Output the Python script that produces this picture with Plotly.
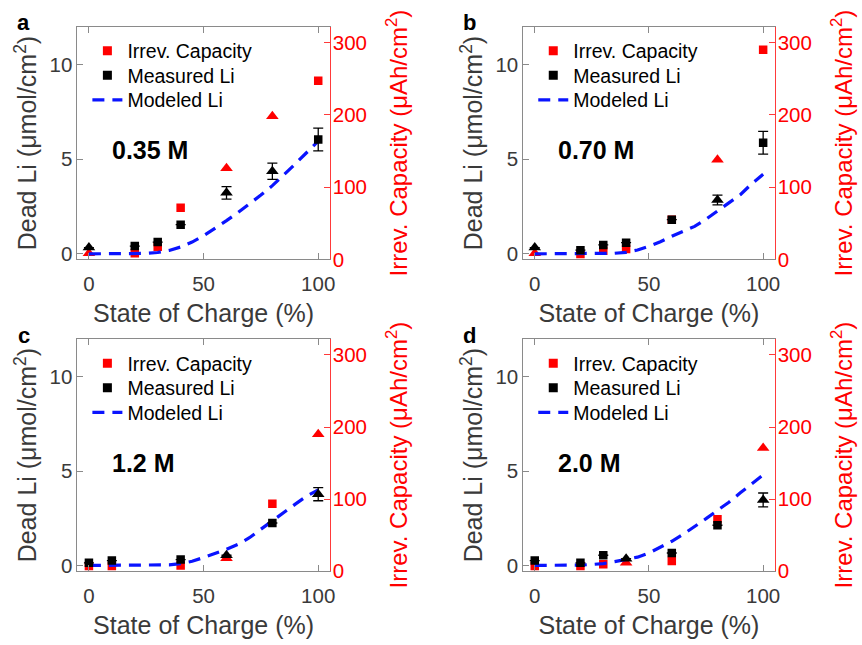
import plotly.graph_objects as go

# ---------------- data ----------------
panel_letters = ["a", "b", "c", "d"]
conc_labels = ["0.35 M", "0.70 M", "1.2 M", "2.0 M"]

soc_a = [0, 20, 30, 40, 60, 80, 100]
meas_a = [0.33, 0.41, 0.62, 1.54, 3.22, 4.36, 6.04]
err_a = [0, 0, 0, 0, 0.33, 0.43, 0.6]
cap_a = [8.5, 8.5, 17.6, 71.6, 126, 198, 247]
tri_a = [1, 0, 0, 0, 1, 1, 0]

soc_b = [0, 20, 30, 40, 60, 80, 100]
meas_b = [0.33, 0.19, 0.47, 0.59, 1.8, 2.84, 5.86]
err_b = [0, 0, 0, 0, 0, 0.26, 0.6]
cap_b = [8.5, 7.6, 12, 14.4, 55, 138, 290]
tri_b = [1, 0, 0, 0, 0, 1, 0]

soc_c = [0, 10, 40, 60, 80, 100]
meas_c = [0.14, 0.26, 0.31, 0.54, 2.25, 3.78]
err_c = [0, 0, 0, 0, 0, 0.35]
cap_c = [7, 7, 7.6, 17.7, 93.5, 190]
tri_c = [0, 0, 0, 1, 0, 1]

soc_d = [0, 20, 30, 40, 60, 80, 100]
meas_d = [0.26, 0.14, 0.54, 0.36, 0.66, 2.13, 3.47]
err_d = [0, 0, 0, 0, 0, 0, 0.37]
cap_d = [7, 7, 9.5, 11.7, 14, 72, 170.7]
tri_d = [0, 0, 0, 1, 0, 0, 1]

model_soc = [0, 10, 20, 25, 30, 35, 40, 45, 50, 55, 60, 65, 70, 75, 80, 85, 90, 95, 100]
model_a = [0, 0, 0, 0.02, 0.07, 0.18, 0.36, 0.62, 0.95, 1.33, 1.75, 2.18, 2.62, 3.1, 3.6, 4.15, 4.75, 5.35, 5.95]
model_b = [0, 0, 0, 0, 0.01, 0.03, 0.08, 0.2, 0.4, 0.64, 0.93, 1.17, 1.45, 1.83, 2.25, 2.65, 3.12, 3.7, 4.2]
model_c = [0, 0, 0, 0, 0.01, 0.03, 0.1, 0.22, 0.42, 0.62, 0.86, 1.12, 1.47, 1.92, 2.38, 2.8, 3.25, 3.68, 4.0]
model_d = [0, 0, 0.02, 0.05, 0.1, 0.2, 0.3, 0.44, 0.66, 0.95, 1.28, 1.65, 2.05, 2.48, 2.92, 3.35, 3.85, 4.35, 4.8]

x_ticks = [0, 50, 100]
left_ticks = [0, 5, 10]
right_ticks = [0, 100, 200, 300]

x_title = "State of Charge (%)"
left_title = "Dead Li (\u03bcmol/cm<sup>2</sup>)"
right_title = "Irrev. Capacity (\u03bcAh/cm<sup>2</sup>)"
legend_names = ["Irrev. Capacity", "Measured Li", "Modeled Li"]

panels = [
    (soc_a, meas_a, err_a, cap_a, tri_a, model_a),
    (soc_b, meas_b, err_b, cap_b, tri_b, model_b),
    (soc_c, meas_c, err_c, cap_c, tri_c, model_c),
    (soc_d, meas_d, err_d, cap_d, tri_d, model_d),
]

# ---------------- layout geometry ----------------
W, H = 862, 645
FONT = "Arial, 'Liberation Sans', sans-serif"
RED = "#ff0000"
BLUE = "#0a14ff"
GRAY = "#8a8a8a"
TXT = "#3a3a3a"

xdoms = [[78 / W, 332 / W], [527 / W, 780 / W], [78 / W, 332 / W], [527 / W, 780 / W]]
ydoms = [[1 - 264 / H, 1 - 27 / H], [1 - 264 / H, 1 - 27 / H],
         [1 - 581 / H, 1 - 345 / H], [1 - 581 / H, 1 - 345 / H]]

fig = go.Figure()
layout = dict(
    width=W, height=H,
    margin=dict(l=0, r=0, t=0, b=0),
    paper_bgcolor="white", plot_bgcolor="rgba(0,0,0,0)",
    font=dict(family=FONT, color=TXT),
    annotations=[],
)


def sym(flags):
    return ["triangle-up" if f else "square" for f in flags]


def sizes(flags):
    return [11 if f else 8.5 for f in flags]


legend_count = 0
for i, (soc, meas, err, cap, tri, model) in enumerate(panels):
    n = i + 1
    xa = "x" if n == 1 else f"x{n}"
    ya_red = "y" if n == 1 else f"y{2 * n - 1}"
    ya_blk = f"y{2 * n}"

    # red capacity (base axis, right side)
    fig.add_trace(go.Scatter(
        x=soc, y=cap, mode="markers", xaxis=xa, yaxis=ya_red, showlegend=False,
        marker=dict(symbol=sym(tri), size=sizes(tri), color=RED, opacity=1, line=dict(width=0)),
    ))
    # modeled line (black axis)
    fig.add_trace(go.Scatter(
        x=model_soc, y=model, mode="lines", xaxis=xa, yaxis=ya_blk, showlegend=False,
        line=dict(color=BLUE, width=3.2, dash="12px,8px"),
    ))
    # measured Li
    fig.add_trace(go.Scatter(
        x=soc, y=meas, mode="markers", xaxis=xa, yaxis=ya_blk, showlegend=False,
        marker=dict(symbol=sym(tri), size=sizes(tri), color="black", opacity=1, line=dict(width=0)),
        error_y=dict(type="data", array=err, visible=True, color="black",
                     thickness=1.3, width=5),
    ))

    x0 = xdoms[i][0]
    ytop = ydoms[i][1]
    # legend entries: one legend per row for exact spacing
    entries = [
        dict(mode="markers", marker=dict(symbol="square", size=9, color=RED)),
        dict(mode="markers", marker=dict(symbol="square", size=9, color="black")),
        dict(mode="lines", line=dict(color=BLUE, width=3.2, dash="12px,8px")),
    ]
    for r, ent in enumerate(entries):
        legend_count += 1
        lname = "legend" if legend_count == 1 else f"legend{legend_count}"
        fig.add_trace(go.Scatter(x=[None], y=[None], name=legend_names[r],
                                 xaxis=xa, yaxis=ya_blk, legend=lname, **ent))
        layout[lname] = dict(
            x=x0 + 10 / W, y=ytop - (5 + 25 * r) / H, xanchor="left", yanchor="top",
            bgcolor="rgba(0,0,0,0)", borderwidth=0,
            font=dict(size=19.5, color="black", family=FONT), itemwidth=30,
        )

    xkey = "xaxis" if n == 1 else f"xaxis{n}"
    rkey = "yaxis" if n == 1 else f"yaxis{2 * n - 1}"
    bkey = f"yaxis{2 * n}"

    layout[xkey] = dict(
        domain=xdoms[i], anchor=ya_red, range=[-5, 105], tickvals=x_ticks,
        showgrid=False, zeroline=False, showline=True, linecolor=GRAY, linewidth=1,
        mirror="ticks", ticks="inside", ticklen=6, tickcolor=GRAY,
        tickfont=dict(size=20.5, color=TXT), ticklabelstandoff=6,
        title=dict(text=x_title, font=dict(size=25, color=TXT), standoff=10),
    )
    layout[rkey] = dict(
        domain=ydoms[i], anchor=xa, side="right", range=[0, 322], tickvals=right_ticks,
        showgrid=False, zeroline=False, showline=True, linecolor="#ff3a3a", linewidth=1,
        ticks="inside", ticklen=6, tickcolor="#ff3a3a",
        tickfont=dict(size=20.5, color=RED), ticklabelstandoff=-2,
        title=dict(text=right_title, font=dict(size=24, color=RED), standoff=24),
    )
    layout[bkey] = dict(
        overlaying=ya_red, anchor=xa, side="left", range=[-0.3, 12], tickvals=left_ticks,
        showgrid=False, zeroline=False, showline=True, linecolor=GRAY, linewidth=1,
        ticks="inside", ticklen=6, tickcolor=GRAY,
        tickfont=dict(size=20.5, color=TXT), ticklabelstandoff=0,
        title=dict(text=left_title, font=dict(size=25, color=TXT), standoff=5),
    )

    # panel letter
    layout["annotations"].append(dict(
        text=f"<b>{panel_letters[i]}</b>", xref="paper", yref="paper",
        x=x0 - 54 / W, y=ytop + 4 / H, xanchor="center", yanchor="middle",
        showarrow=False, font=dict(size=22, color="black", family=FONT)))
    # concentration label
    layout["annotations"].append(dict(
        text=f"<b>{conc_labels[i]}</b>", xref="paper", yref="paper",
        x=x0 + 33 / W, y=ytop - 126 / H, xanchor="left", yanchor="middle",
        showarrow=False, font=dict(size=25, color="black", family=FONT)))

fig.update_layout(**layout)
fig.write_html("out.html")
